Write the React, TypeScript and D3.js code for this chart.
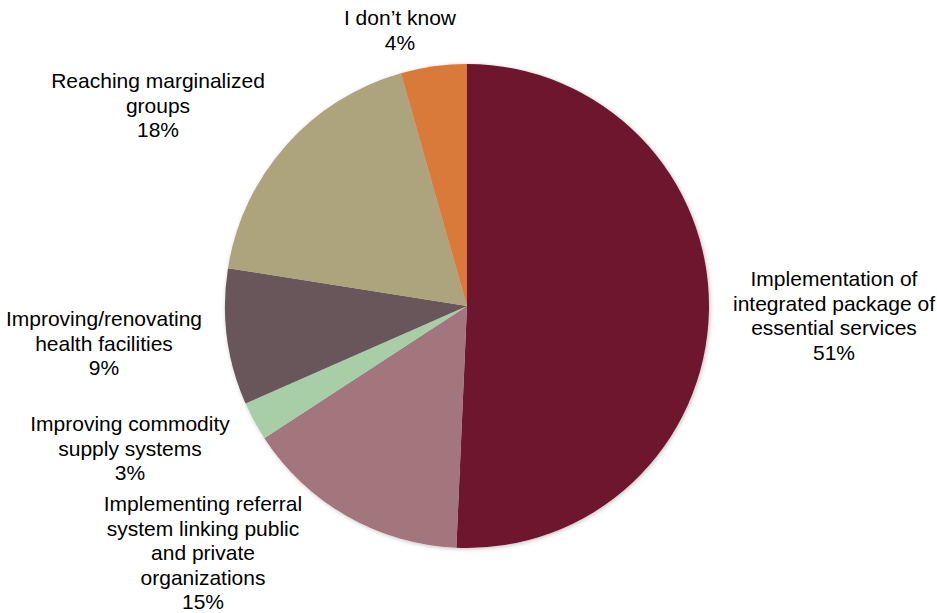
import React from "react";
import * as d3 from "d3";

const categories = [
  ["Implementation of", "integrated package of", "essential services"],
  ["Implementing referral", "system linking public", "and private", "organizations"],
  ["Improving commodity", "supply systems"],
  ["Improving/renovating", "health facilities"],
  ["Reaching marginalized", "groups"],
  ["I don\u2019t know"],
];
const values = [50.7, 15.1, 2.6, 9.1, 18.1, 4.4];
const colors = ["#6D172D", "#A3757C", "#A8CEA8", "#67575A", "#ADA47D", "#D97A3A"];

// label anchor layout (center x, first line center y)
const labelLayout: [number, number][] = [
  [834, 278],
  [203, 503],
  [130, 423],
  [104, 318],
  [158, 80],
  [400, 17],
];

const W = 937;
const H = 613;
const cx = 467;
const cy = 306;
const R = 242;

export default function App() {
  const pie = d3.pie<number>().sort(null).value((d) => d);
  const arcs = pie(values);
  const arcGen = d3.arc<d3.PieArcDatum<number>>().innerRadius(0).outerRadius(R);
  const total = d3.sum(values);
  const lh = 24.5;
  return (
    <svg
      width={W}
      height={H}
      style={{ position: "absolute", left: 0, top: 0, fontFamily: "'Liberation Sans', Arial, sans-serif" }}
    >
      <defs>
        <filter id="sh" x="-10%" y="-10%" width="120%" height="120%">
          <feDropShadow dx="1" dy="1" stdDeviation="2" floodColor="#000" floodOpacity="0.25" />
        </filter>
      </defs>
      <rect width={W} height={H} fill="#fff" />
      <g transform={`translate(${cx},${cy})`} filter="url(#sh)">
        {arcs.map((a, i) => (
          <path key={i} d={arcGen(a) || ""} fill={colors[i]} />
        ))}
      </g>
      {categories.map((lines, i) => {
        const [x, y] = labelLayout[i];
        const all = [...lines, `${Math.round((values[i] / total) * 100)}%`];
        return (
          <text key={i} x={x} fontSize={21} fill="#000" textAnchor="middle" dominantBaseline="central">
            {all.map((t, j) => (
              <tspan key={j} x={x} y={y + j * lh}>
                {t}
              </tspan>
            ))}
          </text>
        );
      })}
    </svg>
  );
}
